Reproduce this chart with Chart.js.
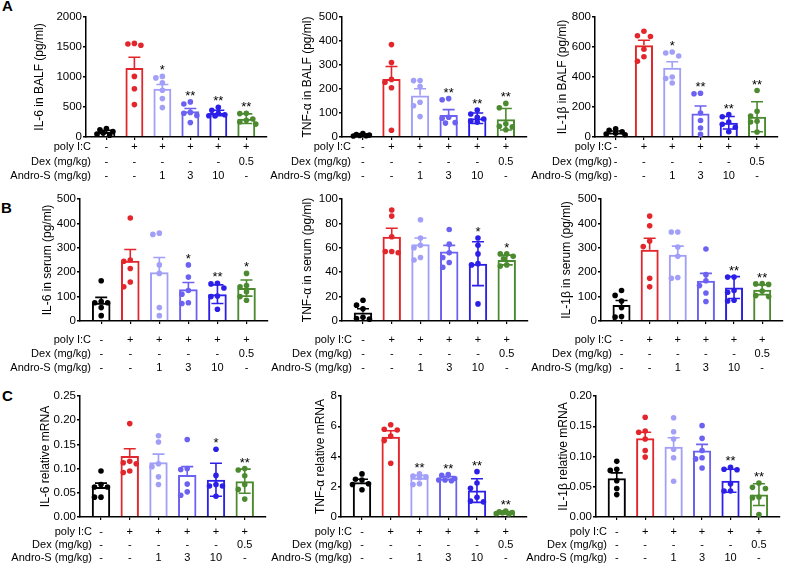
<!DOCTYPE html>
<html>
<head>
<meta charset="utf-8">
<script src="https://cdn.jsdelivr.net/npm/chart.js@4.4.0/dist/chart.umd.min.js"></script>
<style>
  body { margin: 0; background: #fff; width: 787px; height: 565px; position: relative; overflow: hidden;
         font-family: "Liberation Sans", Arial, sans-serif; }
  canvas { position: absolute; }
  .tag { position: absolute; font-weight: bold; font-size: 15px; line-height: 15px; }
</style>
</head>
<body>
<div class="tag" style="left:2px;top:-2px">A</div>
<div class="tag" style="left:1px;top:200px">B</div>
<div class="tag" style="left:2px;top:388px">C</div>

<script>
// groups / table under the x axis
const polyIC = ['-', '+', '+', '+', '+', '+'];
const dexDose = ['-', '-', '-', '-', '-', '0.5'];
const androDose = ['-', '-', '1', '3', '10', '-'];
const rowLabels = ['poly I:C', 'Dex (mg/kg)', 'Andro-S (mg/kg)'];

// A - BALF
const il6BalfMean = [85, 1150, 805, 430, 400, 305];
const il6BalfErr = [25, 180, 70, 45, 45, 80];
const il6BalfPts = [[140, 120, 90, 65, 50, 30], [1550, 1530, 1560, 1010, 805, 540], [1010, 985, 905, 780, 640, 490],
                    [585, 550, 410, 395, 360, 240], [495, 445, 395, 370, 355, 350], [395, 390, 300, 280, 250, 215]];
const il6BalfStars = ['', '', '*', '**', '**', '**'];

const tnfBalfMean = [8, 242, 173, 92, 78, 74];
const tnfBalfErr = [3, 52, 28, 22, 22, 45];
const tnfBalfPts = [[14, 10, 8, 6, 5, 4], [385, 310, 240, 228, 205, 28], [235, 235, 210, 145, 130, 85],
                    [160, 155, 82, 78, 60, 58], [112, 96, 82, 75, 66, 62], [140, 122, 55, 45, 42, 30]];
const tnfBalfStars = ['', '', '', '**', '**', '**'];

const il1bBalfMean = [30, 612, 462, 157, 95, 135];
const il1bBalfErr = [10, 33, 40, 50, 42, 100];
const il1bBalfPts = [[55, 45, 35, 25, 20, 15], [705, 675, 670, 585, 535, 505], [567, 560, 540, 400, 390, 360],
                     [292, 288, 160, 110, 60, 18], [150, 135, 100, 85, 65, 35], [310, 172, 140, 105, 100, 33]];
const il1bBalfStars = ['', '', '*', '**', '**', '**'];

// B - serum
const il6SerumMean = [75, 247, 200, 130, 110, 135];
const il6SerumErr = [22, 46, 60, 28, 38, 33];
const il6SerumPts = [[165, 80, 75, 75, 55, 22], [422, 250, 245, 215, 160, 140], [360, 355, 230, 195, 55, 22],
                     [230, 180, 125, 110, 75, 72], [155, 152, 135, 102, 100, 48], [195, 145, 140, 120, 100, 85]];
const il6SerumStars = ['', '', '', '*', '**', '*'];

const tnfSerumMean = [7, 69, 63, 57, 47, 50];
const tnfSerumErr = [3, 7, 5, 5, 18, 4];
const tnfSerumPts = [[17, 13, 10, 3, 2, 1.5], [91, 86, 69, 57, 57, 56], [83, 68, 62, 60, 52, 50],
                     [75, 63, 56, 52, 48, 44], [68, 62, 55, 47, 46, 14], [55, 55, 53, 51, 46, 45]];
const tnfSerumStars = ['', '', '', '', '*', '*'];

const il1bSerumMean = [66, 292, 272, 165, 137, 128];
const il1bSerumErr = [18, 47, 35, 30, 45, 20];
const il1bSerumPts = [[125, 105, 82, 55, 18, 16], [430, 390, 328, 305, 175, 140], [365, 365, 303, 265, 178, 175],
                      [295, 190, 165, 145, 115, 80], [180, 180, 125, 118, 85, 82], [153, 152, 150, 123, 104, 100]];
const il1bSerumStars = ['', '', '', '', '**', '**'];

// C - relative mRNA
const il6MrnaMean = [0.062, 0.126, 0.113, 0.087, 0.077, 0.074];
const il6MrnaErr = [0.008, 0.015, 0.017, 0.017, 0.034, 0.025];
const il6MrnaPts = [[0.095, 0.067, 0.062, 0.062, 0.041, 0.041], [0.193, 0.115, 0.112, 0.110, 0.095, 0.092],
                    [0.168, 0.155, 0.110, 0.104, 0.083, 0.067], [0.160, 0.100, 0.098, 0.068, 0.052, 0.045],
                    [0.140, 0.086, 0.067, 0.064, 0.064, 0.043], [0.100, 0.097, 0.085, 0.067, 0.057, 0.037]];
const il6MrnaStars = ['', '', '', '', '*', '**'];

const tnfMrnaMean = [2.3, 5.3, 2.6, 2.55, 1.75, 0.28];
const tnfMrnaErr = [0.2, 0.4, 0.15, 0.12, 0.78, 0.08];
const tnfMrnaPts = [[2.85, 2.5, 2.45, 2.2, 2.15, 1.8], [6.1, 5.8, 5.75, 5.35, 5.05, 3.55], [2.85, 2.7, 2.65, 2.6, 2.2, 2.15],
                    [2.8, 2.75, 2.55, 2.45, 2.45, 2.4], [3.0, 2.25, 1.9, 1.3, 1.05, 1.0], [0.4, 0.35, 0.3, 0.28, 0.22, 0.2]];
const tnfMrnaStars = ['', '', '**', '**', '**', '**'];

const il1bMrnaMean = [0.064, 0.130, 0.116, 0.110, 0.060, 0.037];
const il1bMrnaErr = [0.009, 0.010, 0.015, 0.010, 0.019, 0.018];
const il1bMrnaPts = [[0.092, 0.079, 0.077, 0.060, 0.047, 0.037], [0.165, 0.142, 0.140, 0.129, 0.110, 0.099],
                     [0.164, 0.141, 0.129, 0.112, 0.098, 0.059], [0.151, 0.130, 0.110, 0.098, 0.096, 0.081],
                     [0.082, 0.079, 0.078, 0.055, 0.043, 0.043], [0.056, 0.049, 0.047, 0.033, 0.032, 0.004]];
const il1bMrnaStars = ['', '', '', '', '**', '**'];

const groupColors = ['#000000', '#e3262b', '#a29ff8', '#6c62f2', '#2c1fe8', '#4c8a30'];
const twoSided = [false, false, false, false, true, true];

const panels = [
  { title: 'IL-6 in BALF (pg/ml)', max: 2000, step: 500, mean: il6BalfMean, err: il6BalfErr, pts: il6BalfPts, stars: il6BalfStars },
  { title: 'TNF-α in BALF (pg/ml)', max: 500, step: 100, mean: tnfBalfMean, err: tnfBalfErr, pts: tnfBalfPts, stars: tnfBalfStars },
  { title: 'IL-1β in BALF (pg/ml)', max: 800, step: 200, mean: il1bBalfMean, err: il1bBalfErr, pts: il1bBalfPts, stars: il1bBalfStars },
  { title: 'IL-6 in serum (pg/ml)', max: 500, step: 100, mean: il6SerumMean, err: il6SerumErr, pts: il6SerumPts, stars: il6SerumStars },
  { title: 'TNF-α in serum (pg/ml)', max: 100, step: 20, mean: tnfSerumMean, err: tnfSerumErr, pts: tnfSerumPts, stars: tnfSerumStars },
  { title: 'IL-1β in serum (pg/ml)', max: 500, step: 100, mean: il1bSerumMean, err: il1bSerumErr, pts: il1bSerumPts, stars: il1bSerumStars },
  { title: 'IL-6 relative mRNA', max: 0.25, step: 0.05, mean: il6MrnaMean, err: il6MrnaErr, pts: il6MrnaPts, stars: il6MrnaStars },
  { title: 'TNF-α relative mRNA', max: 8, step: 2, mean: tnfMrnaMean, err: tnfMrnaErr, pts: tnfMrnaPts, stars: tnfMrnaStars },
  { title: 'IL-1β relative mRNA', max: 0.20, step: 0.05, mean: il1bMrnaMean, err: il1bMrnaErr, pts: il1bMrnaPts, stars: il1bMrnaStars }
];

// where each panel sits on the page (canvas box, plot area, title centre, table header edge, table row offsets)
const boxes = [
  { cx: 0,   cy: 0,   cw: 272, ch: 185, l: 86,  r: 267, t: 17,  b: 137, tx: 40,  hr: 91,  rows: [10, 25, 39] },
  { cx: 262, cy: 0,   cw: 270, ch: 185, l: 342, r: 527, t: 17,  b: 137, tx: 308, hr: 351, rows: [10, 25, 39] },
  { cx: 525, cy: 0,   cw: 262, ch: 185, l: 595, r: 778, t: 17,  b: 137, tx: 563, hr: 612, rows: [10, 25, 39] },
  { cx: 0,   cy: 185, cw: 272, ch: 190, l: 80,  r: 269, t: 199, b: 321, tx: 48,  hr: 91,  rows: [19, 33, 47] },
  { cx: 262, cy: 185, cw: 270, ch: 190, l: 342, r: 529, t: 199, b: 321, tx: 308, hr: 352, rows: [19, 33, 47] },
  { cx: 525, cy: 185, cw: 262, ch: 190, l: 601, r: 785, t: 199, b: 321, tx: 567, hr: 612, rows: [19, 33, 47] },
  { cx: 0,   cy: 375, cw: 272, ch: 190, l: 80,  r: 266, t: 396, b: 517, tx: 46,  hr: 92,  rows: [15, 27.5, 41] },
  { cx: 262, cy: 375, cw: 270, ch: 190, l: 341, r: 527, t: 396, b: 517, tx: 321, hr: 352, rows: [15, 27.5, 41] },
  { cx: 525, cy: 375, cw: 262, ch: 190, l: 596, r: 780, t: 396, b: 517, tx: 564, hr: 607, rows: [15, 27.5, 41] }
];

const X_MIN = -0.73, X_MAX = 5.74;
const FONT = '"Liberation Sans", Arial, sans-serif';

// simple beeswarm so the dots sit side by side like in Prism
function swarm(vals, pxPerVal, pxPerCat) {
  const cands = [0, -6.5, 6.5, -3.2, 3.2, -9.5, 9.5];
  const placed = [];
  const offs = [];
  const idx = vals.map((v, i) => i).sort((a, b) => vals[b] - vals[a]);
  idx.forEach(i => {
    const py = vals[i] * pxPerVal;
    let best = 0, bestD = -1;
    for (const c of cands) {
      let d = Infinity;
      placed.forEach(q => { d = Math.min(d, Math.hypot(q.x - c, q.y - py)); });
      if (d >= 5.8) { best = c; break; }
      if (d > bestD) { bestD = d; best = c; }
    }
    placed.push({ x: best, y: py });
    offs[i] = best / pxPerCat;
  });
  return offs;
}

function extras(p, L) {
  return {
    id: 'extras',
    afterDatasetDraw(chart, args) {
      if (args.index !== 1) return;
      const x = chart.scales.x, y = chart.scales.y, ctx = chart.ctx;
      ctx.save();
      ctx.lineWidth = 1.6;
      p.mean.forEach((m, i) => {
        const px = x.getPixelForValue(i);
        const top = y.getPixelForValue(m + p.err[i]);
        const bot = y.getPixelForValue(twoSided[i] ? Math.max(0, m - p.err[i]) : m);
        ctx.strokeStyle = groupColors[i];
        ctx.beginPath();
        ctx.moveTo(px, top); ctx.lineTo(px, bot);
        ctx.moveTo(px - 6, top); ctx.lineTo(px + 6, top);
        if (twoSided[i]) { ctx.moveTo(px - 6, bot); ctx.lineTo(px + 6, bot); }
        ctx.stroke();
      });
      ctx.restore();
    },
    afterDraw(chart) {
      const x = chart.scales.x, y = chart.scales.y, ctx = chart.ctx;
      ctx.save();
      ctx.fillStyle = '#000';
      // significance marks
      ctx.font = '13px ' + FONT;
      ctx.textAlign = 'center';
      ctx.textBaseline = 'alphabetic';
      p.stars.forEach((s, i) => {
        if (!s) return;
        const top = Math.min(y.getPixelForValue(Math.max(...p.pts[i])), y.getPixelForValue(p.mean[i] + p.err[i]));
        ctx.fillText(s, x.getPixelForValue(i), top - 2);
      });
      // treatment table
      ctx.font = '11px ' + FONT;
      ctx.textBaseline = 'middle';
      [polyIC, dexDose, androDose].forEach((row, r) => {
        const ty = chart.chartArea.bottom + L.rows[r];
        ctx.textAlign = 'right';
        ctx.fillText(rowLabels[r], L.hr - L.cx, ty);
        ctx.textAlign = 'center';
        row.forEach((v, i) => ctx.fillText(v, x.getPixelForValue(i), ty));
      });
      ctx.restore();
    }
  };
}

panels.forEach((p, k) => {
  const L = boxes[k];
  const cv = document.createElement('canvas');
  cv.width = L.cw; cv.height = L.ch;
  cv.style.left = L.cx + 'px'; cv.style.top = L.cy + 'px';
  cv.style.width = L.cw + 'px'; cv.style.height = L.ch + 'px';
  document.body.appendChild(cv);

  const pxPerVal = (L.b - L.t) / p.max;
  const pxPerCat = (L.r - L.l) / (X_MAX - X_MIN);
  const dots = [], dotColors = [];
  p.pts.forEach((vals, i) => {
    const offs = swarm(vals, pxPerVal, pxPerCat);
    vals.forEach((v, j) => { dots.push({ x: i + offs[j], y: v }); dotColors.push(groupColors[i]); });
  });

  const titleX = L.tx - 7.2;
  const dec = p.max < 1 ? 2 : 0;

  new Chart(cv, {
    type: 'bar',
    data: {
      datasets: [
        { type: 'scatter', data: dots, pointRadius: 2.8, pointBackgroundColor: dotColors,
          pointBorderColor: dotColors, pointBorderWidth: 0, clip: false },
        { type: 'bar', data: p.mean.map((m, i) => ({ x: i, y: m })), backgroundColor: 'rgba(255,255,255,0)',
          borderColor: groupColors, borderWidth: 2, barPercentage: 0.64, categoryPercentage: 1 }
      ]
    },
    options: {
      responsive: false,
      animation: false,
      devicePixelRatio: 1,
      layout: {
        padding: {
          left: titleX - L.cx,
          top: L.t - L.cy,
          right: L.cx + L.cw - L.r,
          bottom: L.cy + L.ch - L.b - 3
        }
      },
      plugins: { legend: { display: false }, tooltip: { enabled: false } },
      scales: {
        x: {
          type: 'linear', min: X_MIN, max: X_MAX, offset: false,
          afterBuildTicks: (a) => { a.ticks = polyIC.map((c, i) => ({ value: i })); },
          afterFit: (a) => { a.height = 3; },
          ticks: { display: false },
          grid: { offset: false, drawOnChartArea: false, drawTicks: true, tickLength: 3, color: '#000', lineWidth: 1.2 },
          border: { color: '#000', width: 1.5 }
        },
        y: {
          min: 0, max: p.max,
          afterFit: (a) => { a.width = L.l - titleX; },
          ticks: { stepSize: p.step, color: '#000', padding: 1, font: { size: 11.5, family: FONT },
                   callback: (v) => v.toFixed(dec) },
          grid: { drawOnChartArea: false, drawTicks: true, tickLength: 3, color: '#000', lineWidth: 1.5 },
          border: { color: '#000', width: 1.5 },
          title: { display: true, text: p.title, color: '#000', padding: 0, font: { size: 12, family: FONT } }
        }
      }
    },
    plugins: [extras(p, L)]
  });
});
</script>
</body>
</html>
